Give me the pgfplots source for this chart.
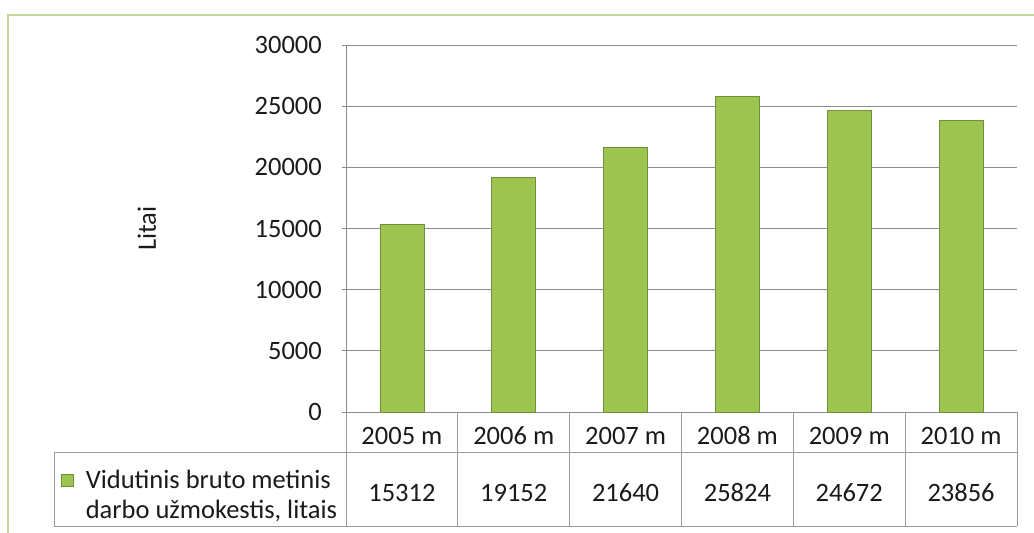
\documentclass[border=0pt]{standalone}
\usepackage{fontspec}
\setmainfont{Carlito}
\usepackage{pgfplots}
\pgfplotsset{compat=1.18}

\definecolor{barmain}{HTML}{9DC44E}
\definecolor{bardark}{HTML}{72903A}
\definecolor{gridgray}{HTML}{8C8C8C}
\definecolor{tablegray}{HTML}{9A9A9A}
\definecolor{framegreen}{HTML}{C3D69B}
\definecolor{txt}{HTML}{1A1A1A}

\newcommand\cf{\fontsize{26.5}{30}\selectfont}

\begin{document}
\begin{tikzpicture}
\begin{axis}[
    scale only axis,
    width=671pt, height=367pt,
    xmin=-0.5, xmax=5.5,
    ymin=0, ymax=30000,
    ytick={0,5000,...,30000},
    scaled y ticks=false,
    /pgf/number format/1000 sep={},
    /pgf/number format/assume math mode=true,
    axis x line*=bottom, axis y line*=left,
    axis line style={gridgray},
    ymajorgrids, grid style={gridgray, line width=0.8pt},
    tick label style={font=\cf, text=txt},
    yticklabel style={anchor=east, inner sep=0pt, xshift=-20pt},
    ytick style={gridgray, line width=0.8pt},
    major tick length=4pt, tick align=outside,
    xtick={0,...,5},
    xticklabels={2005 m,2006 m,2007 m,2008 m,2009 m,2010 m},
    xtick style={draw=none},
    xticklabel style={anchor=center, inner sep=0pt, yshift=-20pt},
    extra x ticks={0,...,5},
    extra x tick labels={15312,19152,21640,25824,24672,23856},
    extra x tick style={grid=none, xtick style={draw=none},
        xticklabel style={yshift=-57pt}},
    every axis y label/.style={at={(axis description cs:-0.2966,0.5)},
        anchor=center, rotate=90, font=\cf, text=txt},
    ylabel={Litai},
    clip=false,
    legend style={at={(axis description cs:-0.4247,-0.1523)}, anchor=north west,
        draw=none, fill=none, inner sep=0pt, font=\cf, text=txt,
        cells={align=left, anchor=west},
        /tikz/every odd column/.append style={column sep=10pt}},
    legend image code/.code={\fill[barmain, draw=bardark] (0pt,9pt) rectangle (12pt,21pt);},
]
\addplot[ybar, bar width=0.394, draw=bardark, line width=0.6pt, fill=barmain]
    coordinates {(0,15312) (1,19152) (2,21640) (3,25824) (4,24672) (5,23856)};
\addlegendentry{Vidutinis bruto metinis\\darbo užmokestis, litais}
\end{axis}
% data table borders
\begin{scope}[tablegray, line width=0.8pt]
\foreach \x in {0,111.83,223.67,335.5,447.33,559.17,671} {
  \draw (\x pt,0pt) -- (\x pt,-114pt);
}
\draw (-292pt,-40pt) -- (671pt,-40pt);
\draw (-292pt,-114pt) -- (671pt,-114pt);
\draw (-292pt,-40pt) -- (-292pt,-114pt);
\end{scope}
% outer chart frame
\draw[framegreen, line width=2pt] (-338pt,-125pt) -- (-338pt,397pt) -- (692pt,397pt);
\pgfresetboundingbox
\useasboundingbox (-346pt,-121pt) rectangle (688pt,412pt);
\end{tikzpicture}
\end{document}
